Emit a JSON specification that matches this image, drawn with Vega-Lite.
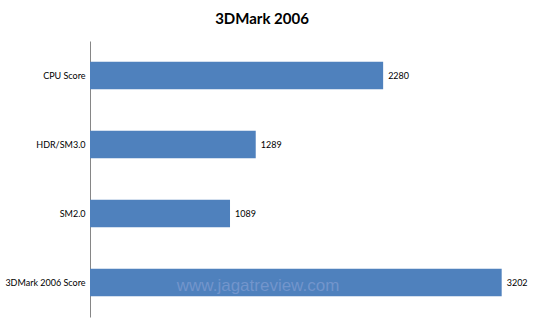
{
  "$schema": "https://vega.github.io/schema/vega-lite/v6.json",
  "autosize": "none",
  "width": 450,
  "height": 276,
  "padding": {"left": 90, "top": 41, "right": 10, "bottom": 14},
  "background": "white",
  "title": {"text": "3DMark 2006", "font": "Lato", "fontSize": 15, "fontWeight": "bold", "color": "#000000", "anchor": "middle", "dx": -53, "offset": 14},
  "data": {"values": [
    {"test": "CPU Score", "score": 2280},
    {"test": "HDR/SM3.0", "score": 1289},
    {"test": "SM2.0", "score": 1089},
    {"test": "3DMark 2006 Score", "score": 3202}
  ]},
  "encoding": {
    "y": {"field": "test", "type": "nominal", "sort": null, "title": null,
      "scale": {"paddingInner": 0.6, "paddingOuter": 0.3},
      "axis": {"domainColor": "#868686", "ticks": false, "labelFont": "Lato", "labelFontSize": 9, "labelColor": "#000000", "labelPadding": 5}},
    "x": {"field": "score", "type": "quantitative", "scale": {"domain": [0, 3500], "nice": false}, "axis": null}
  },
  "layer": [
    {"mark": {"type": "bar", "color": "#4F81BD"}},
    {"mark": {"type": "text", "align": "left", "dx": 5, "font": "Lato", "fontSize": 9, "color": "#000000"},
     "encoding": {"text": {"field": "score", "type": "quantitative", "format": "d"}}},
    {"data": {"values": [{"test": "3DMark 2006 Score", "pos": 1307, "mark": "www.jagatreview.com"}]},
     "mark": {"type": "text", "font": "Liberation Sans", "fontSize": 17, "color": "#7b9ad0", "opacity": 0.8, "dy": 3},
     "encoding": {"x": {"field": "pos", "type": "quantitative"}, "text": {"field": "mark"}}}
  ],
  "config": {"view": {"stroke": null}}
}
